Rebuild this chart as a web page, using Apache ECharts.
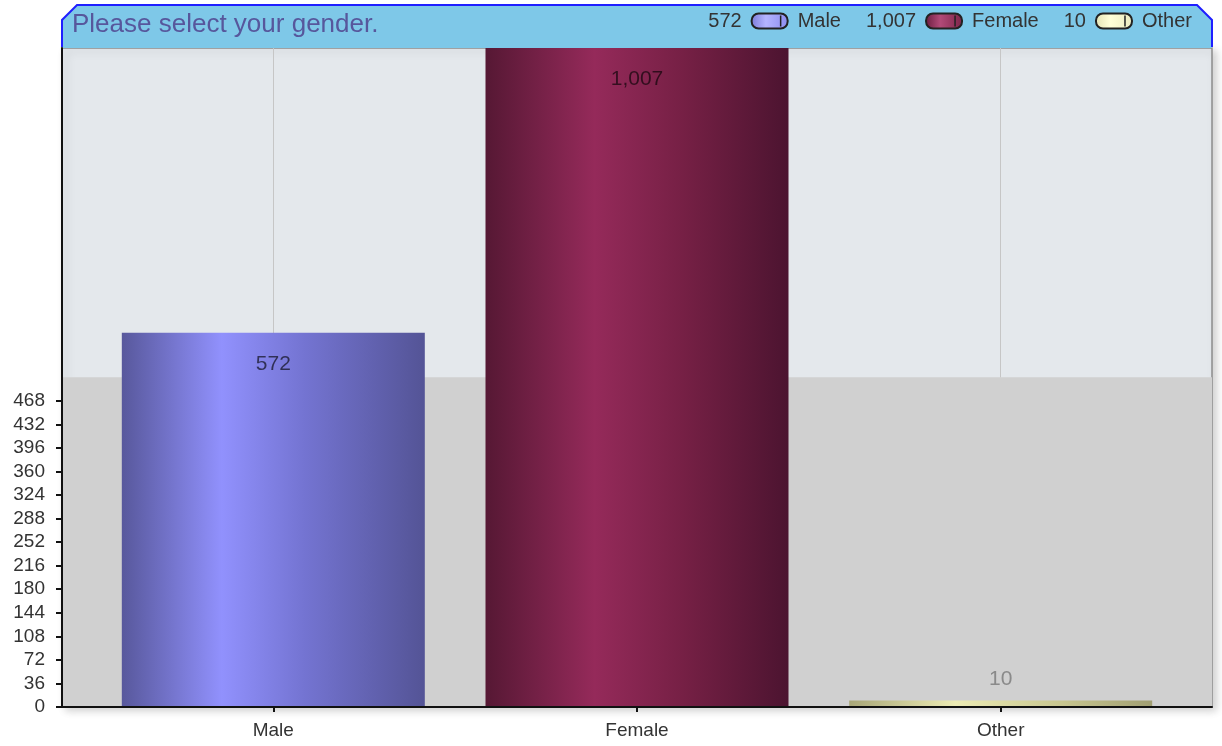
<!DOCTYPE html>
<html>
<head>
<meta charset="utf-8">
<title>Please select your gender.</title>
<script src="https://cdn.jsdelivr.net/npm/echarts@6/dist/echarts.min.js"></script>
<style>
	html, body { margin: 0; padding: 0; background: #fff; }
	#chart { width: 1222px; height: 746px; }
</style>
</head>
<body>
<div id="chart"></div>
<script>
// 数据
const titleText = 'Please select your gender.'
const categories = ['Male', 'Female', 'Other']
const counts = [572, 1007, 10]
const yTickValues = [0, 36, 72, 108, 144, 180, 216, 252, 288, 324, 360, 396, 432, 468]
const yMax = 1007
const bandTop = 504

// 柱子渐变色
const barStops = [
	[[0, '#58589c'], [0.33, '#9191fd'], [0.6, '#7474d2'], [1, '#545496']],
	[[0, '#561834'], [0.36, '#952a5a'], [0.65, '#762045'], [1, '#4c1430']],
	[[0, '#a8a678'], [0.35, '#ecebb4'], [0.7, '#c8c690'], [1, '#a09e72']],
]
const iconStops = [
	[[0, '#7a7ad8'], [0.4, '#b4b4ff'], [1, '#8c8cee']],
	[[0, '#6a1c3e'], [0.4, '#b24a78'], [1, '#7c2448']],
	[[0, '#e4e2b4'], [0.4, '#ffffd8'], [1, '#ecebc0']],
]
const fontFamily = "'Liberation Sans', Arial, sans-serif"

const grad = (stops) => ({
	type: 'linear', x: 0, y: 0, x2: 1, y2: 0,
	colorStops: stops.map((s) => ({ offset: s[0], color: s[1] })),
})
const fmt = (v) => v.toLocaleString('en-US')

// 文字宽度
const ctx = document.createElement('canvas').getContext('2d')
const textWidth = (str, font) => {
	ctx.font = font
	return ctx.measureText(str).width
}

// 图例（数值 + 图标 + 名称），从右往左排
const legendFont = '20px ' + fontFamily
const legendRight = 1192
const legendY = 21
const iconW = 36
const iconH = 15
const legendItems = categories.map((name, i) => {
	const vw = textWidth(fmt(counts[i]), legendFont)
	const nw = textWidth(name, legendFont)
	return { name, value: fmt(counts[i]), vw, nw, w: vw + 10 + iconW + 10 + nw }
})
const legendTotal = legendItems.reduce((s, it) => s + it.w, 0) + 25 * (legendItems.length - 1)
const legendGraphics = []
let lx = legendRight - legendTotal
legendItems.forEach((it, i) => {
	legendGraphics.push({
		type: 'text', z: 10,
		style: { text: it.value, x: lx, y: legendY, font: legendFont, fill: '#333', verticalAlign: 'middle' },
	})
	const ix = lx + it.vw + 10
	legendGraphics.push({
		type: 'rect', z: 10,
		shape: { x: ix, y: legendY - iconH / 2, width: iconW, height: iconH, r: 7 },
		style: { fill: grad(iconStops[i]), stroke: '#222', lineWidth: 2 },
	})
	legendGraphics.push({
		type: 'line', z: 11,
		shape: { x1: ix + iconW - 7, y1: legendY - iconH / 2 + 2, x2: ix + iconW - 7, y2: legendY + iconH / 2 - 2 },
		style: { stroke: '#222', lineWidth: 1.5 },
	})
	legendGraphics.push({
		type: 'text', z: 10,
		style: { text: it.name, x: ix + iconW + 10, y: legendY, font: legendFont, fill: '#333', verticalAlign: 'middle' },
	})
	lx += it.w + 25
})

const chart = echarts.init(document.getElementById('chart'), null, { renderer: 'canvas' })

const option = {
	animation: false,
	backgroundColor: '#ffffff',
	textStyle: { fontFamily },
	title: {
		text: titleText,
		left: 72,
		top: 12,
		padding: 0,
		textStyle: { color: '#57579c', fontSize: 26, fontWeight: 'normal', fontFamily },
	},
	graphic: [
		// 标题栏
		{
			type: 'polygon', z: 1,
			shape: { points: [[62, 20], [77, 5], [1197, 5], [1212, 20], [1212, 48], [62, 48]] },
			style: { fill: '#7ec8e8' },
		},
		{
			type: 'polyline', z: 2,
			shape: { points: [[62, 47], [62, 20], [77, 5], [1197, 5], [1212, 20], [1212, 47]] },
			style: { stroke: '#1f1fff', lineWidth: 2, fill: null },
		},
		...legendGraphics,
	],
	grid: {
		left: 62,
		top: 48,
		right: 10,
		bottom: 39,
		show: true,
		backgroundColor: '#e4e8ec',
		borderColor: '#8c8c8c',
		borderWidth: 1.5,
		shadowColor: 'rgba(0,0,0,0.18)',
		shadowBlur: 8,
		shadowOffsetX: 4,
		shadowOffsetY: 3,
	},
	xAxis: {
		type: 'value',
		min: -0.581,
		max: 2.581,
		z: 10,
		axisLine: { show: true, onZero: true, lineStyle: { color: '#111', width: 2 } },
		axisTick: { show: true, length: 5, customValues: categories.map((c, i) => i), lineStyle: { color: '#111', width: 2 } },
		axisLabel: {
			customValues: categories.map((c, i) => i),
			formatter: (v) => categories[Math.round(v)],
			color: '#333',
			fontSize: 19,
			fontFamily,
			margin: 14,
		},
		splitLine: { show: false },
	},
	yAxis: {
		type: 'value',
		min: 0,
		max: yMax,
		z: 10,
		axisLine: { show: true, onZero: false, lineStyle: { color: '#111', width: 2 } },
		axisTick: { show: true, length: 6, customValues: yTickValues, lineStyle: { color: '#111', width: 2 } },
		axisLabel: {
			customValues: yTickValues,
			color: '#333',
			fontSize: 19,
			fontFamily,
			margin: 17,
		},
		splitLine: { show: false },
	},
	series: [
		{
			name: 'gender',
			type: 'bar',
			z: 3,
			barWidth: 303,
			data: counts.map((v, i) => ({
				value: [i, v],
				itemStyle: { color: grad(barStops[i]) },
				label: i === 2
					? { position: 'top', distance: 11, color: '#8a8a8a' }
					: { position: 'insideTop', distance: 21, color: 'rgba(0,0,0,0.62)' },
			})),
			label: {
				show: true,
				fontSize: 21,
				fontFamily,
				formatter: (p) => fmt(p.value[1]),
			},
			markLine: {
				silent: true,
				z: 1,
				symbol: ['none', 'none'],
				label: { show: false },
				lineStyle: { color: '#c6c6c6', width: 1, type: 'solid' },
				data: categories.map((c, i) => ({ xAxis: i })),
			},
			markArea: {
				silent: true,
				z: 2,
				itemStyle: { color: '#d0d0d0' },
				data: [[{ yAxis: 0 }, { yAxis: bandTop }]],
			},
		},
	],
}

chart.setOption(option)
</script>
</body>
</html>
